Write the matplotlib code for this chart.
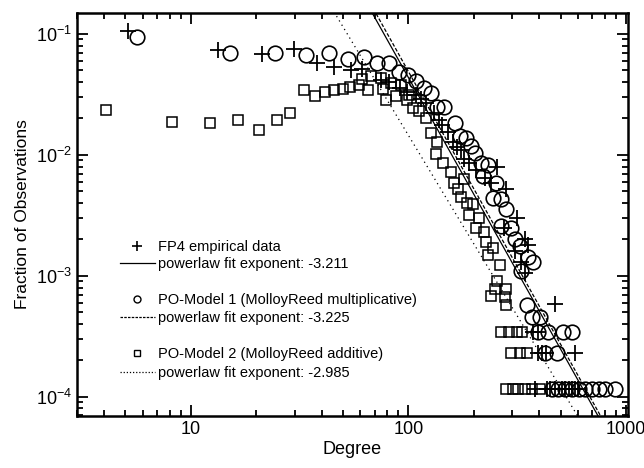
import numpy as np
import matplotlib
matplotlib.use("Agg")
import matplotlib.pyplot as plt
from matplotlib.lines import Line2D
from matplotlib.legend import Legend

plt.rcParams['font.family'] = ['Liberation Sans', 'DejaVu Sans']
plt.rcParams['mathtext.default'] = 'regular'

# FP4 empirical data (crosses)
fp4_deg = [5.15, 13.4, 21.3, 29.8, 38.1, 45.6, 54.3, 61, 74.7, 81.6, 91, 99, 108, 114, 120,
           131, 138, 142, 152, 160, 167, 174, 181, 190, 205, 225, 240, 255, 282, 276, 314,
           342, 355, 310, 330, 343, 471, 372, 395, 395, 412, 430, 581,
           380, 435, 445, 470, 506, 525, 545, 563, 585, 604]
fp4_frac = [0.106, 0.0738, 0.068, 0.0748, 0.0573, 0.0537, 0.0505, 0.051, 0.0418, 0.040, 0.036,
            0.033, 0.031, 0.029, 0.027, 0.022, 0.0195, 0.0177, 0.0155, 0.0128, 0.0117, 0.0110,
            0.0092, 0.0085, 0.0075, 0.0065, 0.0058, 0.0080, 0.0052, 0.0025, 0.0030, 0.0020,
            0.0018, 0.0016, 0.0013, 0.00106, 5.8e-4, 3.45e-4, 3.45e-4, 2.3e-4, 2.3e-4, 2.3e-4,
            2.3e-4, 1.15e-4, 1.15e-4, 1.15e-4, 1.15e-4, 1.15e-4, 1.15e-4, 1.15e-4, 1.15e-4,
            1.15e-4, 1.15e-4]

# PO-Model 1 (circles)
m1_deg = [5.68, 15.07, 24.5, 33.9, 43.1, 52.8, 62.2, 71.6, 81.7, 90.8, 99.3, 108, 118, 127,
          136, 146, 163, 172, 184.6, 194.5, 201.6, 216, 232, 220, 253.6, 244.8, 267, 282, 267,
          297, 308, 325, 355, 375, 330, 349, 368, 402, 395, 440, 516, 563, 424, 480,
          455, 489, 525, 563, 605, 649, 697, 748, 803, 893]
m1_frac = [0.094, 0.0701, 0.0701, 0.0672, 0.0701, 0.0618, 0.065, 0.0573, 0.0573, 0.0489, 0.0459,
           0.0405, 0.0357, 0.0324, 0.0249, 0.0249, 0.0184, 0.0142, 0.0138, 0.0118, 0.0104,
           0.0086, 0.0083, 0.00667, 0.00588, 0.00442, 0.0043, 0.00359, 0.00258, 0.0025,
           0.0020, 0.00177, 0.00142, 0.00129, 0.0011, 5.75e-4, 4.6e-4, 4.6e-4, 3.45e-4,
           3.45e-4, 3.45e-4, 3.45e-4, 2.3e-4, 2.3e-4,
           1.15e-4, 1.15e-4, 1.15e-4, 1.15e-4, 1.15e-4, 1.15e-4, 1.15e-4, 1.15e-4, 1.15e-4, 1.15e-4]

# PO-Model 2 (squares)
m2_deg = [4.06, 8.23, 12.3, 16.5, 20.6, 24.8, 28.7, 33.1, 37.1, 41.4, 45.5, 49.8, 54, 59, 61.5,
          65, 67.2, 74.6, 76.1, 83.2, 78.8, 87.7, 92.5, 99, 101, 104.7, 112, 120.5, 127, 136,
          134, 144, 157, 162, 169, 174, 181, 185, 198, 190, 211, 205, 222, 228, 246, 233,
          263, 254, 249, 282, 240, 277, 282,
          267, 291, 314, 334, 297, 324, 352, 282, 301, 320, 345, 371, 401]
m2_frac = [0.0236, 0.0186, 0.0184, 0.0196, 0.016, 0.0196, 0.0222, 0.0341, 0.0304, 0.0334, 0.0341,
           0.035, 0.0364, 0.038, 0.0423, 0.0345, 0.0445, 0.0431, 0.035, 0.0393, 0.0286, 0.0304,
           0.038, 0.0286, 0.0314, 0.0244, 0.0229, 0.0202, 0.0152, 0.0129, 0.0101, 0.0086,
           0.0072, 0.0059, 0.0052, 0.0045, 0.0063, 0.0040, 0.0039, 0.0032, 0.0030, 0.0025,
           0.0023, 0.0019, 0.0017, 0.0015, 0.00122, 9.08e-4, 7.75e-4, 7.8e-4, 6.82e-4, 6.7e-4,
           5.75e-4, 3.45e-4, 3.45e-4, 3.45e-4, 3.45e-4, 2.3e-4, 2.3e-4, 2.3e-4,
           1.15e-4, 1.15e-4, 1.15e-4, 1.15e-4, 1.15e-4, 1.15e-4]

# power-law fits: exponent and the degree where each line crosses 1e-3
fit_exp = [-3.211, -3.225, -2.985]
fit_deg_at_1e3 = [324, 334, 245]
fit_labels = ['powerlaw fit exponent: -3.211', 'powerlaw fit exponent: -3.225',
              'powerlaw fit exponent: -2.985']
series_labels = ['FP4 empirical data', 'PO-Model 1 (MolloyReed multiplicative)',
                 'PO-Model 2 (MolloyReed additive)']

fig = plt.figure(figsize=(6.44, 4.68), dpi=100)
ax = fig.add_axes([0.1196, 0.1111, 0.8554, 0.8611])

ax.plot(m2_deg, m2_frac, 's', ms=7, mfc='none', mec='black', mew=1.1, ls='none')
ax.plot(m1_deg, m1_frac, 'o', ms=10.5, mfc='none', mec='black', mew=1.2, ls='none')
ax.plot(fp4_deg, fp4_frac, '+', ms=12, mec='black', mew=1.3, ls='none')

fit_dashes = [None, (3, 1.5), (1, 3)]
xs = np.array([3.0, 1100.0])
for e, x0, d in zip(fit_exp, fit_deg_at_1e3, fit_dashes):
    ys = 1e-3 * (xs / x0) ** e
    ln, = ax.plot(xs, ys, color='black', lw=0.9)
    if d is not None:
        ln.set_dashes(d)

ax.set_xscale('log')
ax.set_yscale('log')
ax.set_xlim(3, 1020)
ax.set_ylim(6.93e-5, 0.149)

ax.set_xticks([10, 100, 1000])
ax.set_xticklabels(['10', '100', '1000'])
ax.set_yticks([1e-4, 1e-3, 1e-2, 1e-1])
ax.set_yticklabels(['$10^{-4}$', '$10^{-3}$', '$10^{-2}$', '$10^{-1}$'])
ax.tick_params(which='both', direction='in', top=True, right=True, width=1.3)
ax.tick_params(which='major', length=8, labelsize=13)
ax.tick_params(which='minor', length=4.5)
for s in ax.spines.values():
    s.set_linewidth(1.8)

ax.set_xlabel('Degree', fontsize=13, labelpad=2)
ax.set_ylabel('Fraction of Observations', fontsize=12.5, labelpad=4)

# legend rows, one small legend per row so the spacing can be matched
marker_handles = [
    Line2D([], [], marker='+', ls='none', color='black', ms=7, mew=1.2),
    Line2D([], [], marker='o', ls='none', mfc='none', mec='black', ms=5, mew=1),
    Line2D([], [], marker='s', ls='none', mfc='none', mec='black', ms=4.5, mew=1),
]
line_handles = [
    Line2D([], [], color='black', lw=0.9),
    Line2D([], [], color='black', lw=0.9, dashes=(2, 1)),
    Line2D([], [], color='black', lw=0.9, dashes=(1, 1.5)),
]
row_y = [0.420, 0.377, 0.288, 0.243, 0.154, 0.107]
rows = []
for i in range(3):
    rows.append((marker_handles[i], series_labels[i]))
    rows.append((line_handles[i], fit_labels[i]))
for (h, lab), y in zip(rows, row_y):
    leg = Legend(ax, [h], [lab], loc='center left', bbox_to_anchor=(0.078, y),
                 frameon=False, fontsize=10.5, handlelength=2.4, handletextpad=0.2,
                 borderpad=0, borderaxespad=0)
    ax.add_artist(leg)

fig.savefig('out.png', dpi=100)
